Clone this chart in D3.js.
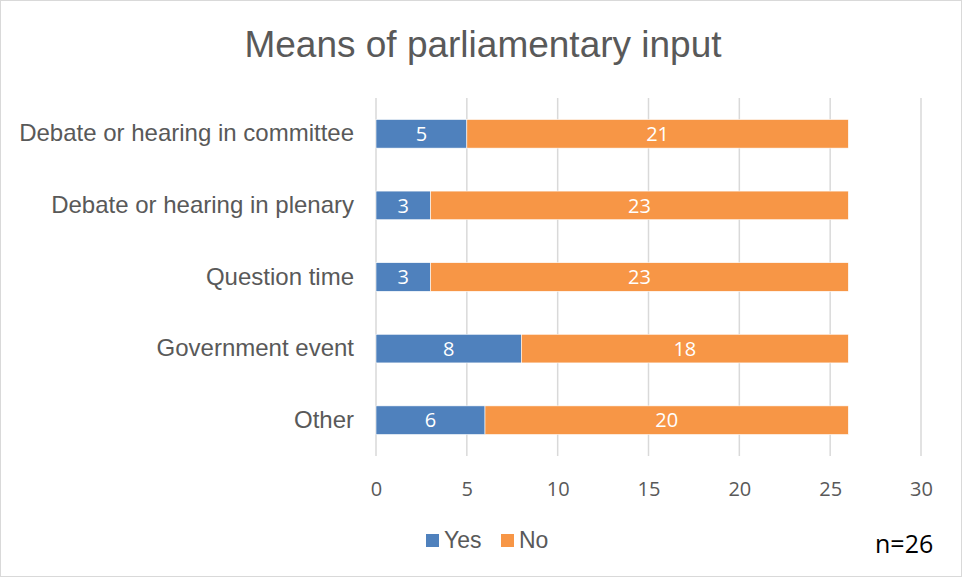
<!DOCTYPE html>
<html>
<head>
<meta charset="utf-8">
<script src="https://cdn.jsdelivr.net/npm/d3@7"></script>
<style>
  html, body { margin: 0; padding: 0; background: #fff; }
  svg { display: block; }
</style>
</head>
<body>
<svg id="chart" width="962" height="577"></svg>
<script>
const categories = ["Debate or hearing in committee", "Debate or hearing in plenary", "Question time", "Government event", "Other"];
const yesValues = [5, 3, 3, 8, 6];
const noValues = [21, 23, 23, 18, 20];
const seriesNames = ["Yes", "No"];
const seriesColors = ["#4F81BD", "#F79646"];
const xTicks = [0, 5, 10, 15, 20, 25, 30];
const titleText = "Means of parliamentary input";
const noteText = "n=26";

const SANS = "'Liberation Sans', Arial, Helvetica, sans-serif";
const NUM = "'Open Sans', sans-serif";

const svg = d3.select("#chart");
const W = 962, H = 577;

svg.append("rect").attr("x", 0.5).attr("y", 0.5).attr("width", W - 1).attr("height", H - 1)
  .attr("fill", "#fff").attr("stroke", "#D9D9D9").attr("stroke-width", 1);

const x = d3.scaleLinear().domain([0, 30]).range([376, 921]);
const y = d3.scaleBand().domain(categories).range([98, 456]).paddingInner(0.6).paddingOuter(0.3);

// title
svg.append("text").attr("x", 483).attr("y", 57).attr("text-anchor", "middle")
  .style("font-family", SANS).style("font-size", "37px")
  .attr("fill", "#595959").text(titleText);

// gridlines
svg.append("g").selectAll("line").data(xTicks).join("line")
  .attr("x1", d => x(d)).attr("x2", d => x(d)).attr("y1", 98).attr("y2", 456)
  .attr("stroke", "#D9D9D9").attr("stroke-width", 1.5);

// x axis labels
const xAxis = d3.axisBottom(x).tickValues(xTicks).tickSize(0).tickPadding(0);
const gx = svg.append("g").attr("transform", "translate(0,482)").call(xAxis);
gx.attr("font-family", null).attr("font-size", null);
gx.select(".domain").remove();
gx.selectAll("text").style("font-family", NUM).style("font-size", "20px")
  .attr("fill", "#595959").attr("dy", "0.71em");

// y axis labels
const yAxis = d3.axisLeft(y).tickSize(0).tickPadding(0);
const gy = svg.append("g").attr("transform", "translate(354,0)").call(yAxis);
gy.attr("font-family", null).attr("font-size", null);
gy.select(".domain").remove();
gy.selectAll("text").style("font-family", SANS).style("font-size", "24px")
  .attr("fill", "#595959");

// stacked data
const rows = categories.map((c, i) => ({ cat: c, Yes: yesValues[i], No: noValues[i] }));
const stack = d3.stack().keys(seriesNames)(rows);
const color = d3.scaleOrdinal().domain(seriesNames).range(seriesColors);

const layers = svg.append("g").selectAll("g").data(stack).join("g").attr("fill", d => color(d.key));
layers.selectAll("rect").data(d => d).join("rect")
  .attr("x", d => x(d[0])).attr("width", d => x(d[1]) - x(d[0]))
  .attr("y", d => y(d.data.cat)).attr("height", y.bandwidth())
  .attr("stroke", "#fff").attr("stroke-width", 0.6);

layers.selectAll("text").data(d => d).join("text")
  .attr("x", d => (x(d[0]) + x(d[1])) / 2)
  .attr("y", d => y(d.data.cat) + y.bandwidth() / 2)
  .attr("dy", "0.36em").attr("text-anchor", "middle")
  .style("font-family", NUM).style("font-size", "20px")
  .attr("fill", "#fff").text(d => d[1] - d[0]);

// legend
const legendX = [426, 501];
const lg = svg.append("g");
seriesNames.forEach((s, i) => {
  lg.append("rect").attr("x", legendX[i]).attr("y", 534).attr("width", 13).attr("height", 13).attr("fill", seriesColors[i]);
  lg.append("text").attr("x", legendX[i] + 18).attr("y", 548)
    .style("font-family", SANS).style("font-size", "23px")
    .attr("fill", "#595959").text(s);
});

// note
svg.append("text").attr("x", 875).attr("y", 553)
  .style("font-family", NUM).style("font-size", "25px")
  .attr("fill", "#000").text(noteText);
</script>
</body>
</html>
